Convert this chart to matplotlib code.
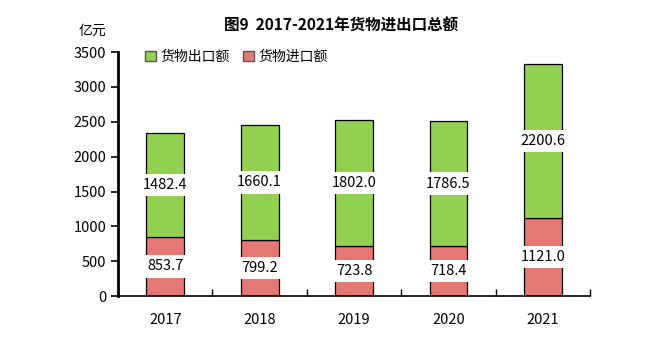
import matplotlib

matplotlib.use("Agg")
import matplotlib.pyplot as plt
import numpy as np
from matplotlib.patches import Patch

plt.rcParams["font.family"] = ["Noto Sans CJK SC", "DejaVu Sans"]

years = ["2017", "2018", "2019", "2020", "2021"]
exports = [1482.4, 1660.1, 1802.0, 1786.5, 2200.6]
imports = [853.7, 799.2, 723.8, 718.4, 1121.0]

EXPORT_COLOR = "#92d050"
IMPORT_COLOR = "#e57873"

figure = plt.figure(figsize=(6.49, 3.38), dpi=100)
axis = figure.add_axes([0.182, 0.124, 0.727, 0.722])

positions = np.arange(len(years))
bar_width = 0.4
axis.bar(positions, imports, bar_width, color=IMPORT_COLOR, edgecolor="black", linewidth=0.9)
axis.bar(positions, exports, bar_width, bottom=imports, color=EXPORT_COLOR, edgecolor="black", linewidth=0.9)

box = dict(facecolor="white", edgecolor="none", pad=3)
for x, imp, exp in zip(positions, imports, exports):
    axis.text(x, imp / 2, f"{imp:.1f}", ha="center", va="center", fontsize=10.5, bbox=box)
    axis.text(x, imp + exp / 2, f"{exp:.1f}", ha="center", va="center", fontsize=10.5, bbox=box)

axis.set_xlim(-0.5, len(years) - 0.5)
axis.set_ylim(0, 3500)
axis.set_yticks(range(0, 3501, 500))
axis.tick_params(axis="y", direction="out", length=5, width=1.2, labelsize=10.5)
axis.set_xticks(positions)
axis.set_xticklabels(years)
axis.set_xticks(np.arange(-0.5, len(years)), minor=True)
axis.tick_params(axis="x", which="major", length=0, pad=12, labelsize=10.5)
axis.tick_params(axis="x", which="minor", direction="in", length=5, width=1)

for side in ("top", "right"):
    axis.spines[side].set_visible(False)
axis.spines["left"].set_linewidth(2)
axis.spines["bottom"].set_linewidth(1.2)

handles = [
    Patch(facecolor=EXPORT_COLOR, edgecolor="#555555", label="货物出口额"),
    Patch(facecolor=IMPORT_COLOR, edgecolor="#555555", label="货物进口额"),
]
axis.legend(
    handles=handles,
    loc="upper left",
    bbox_to_anchor=(0.03, 1.06),
    ncol=2,
    frameon=False,
    fontsize=10,
    handlelength=0.8,
    handleheight=0.8,
    handletextpad=0.3,
    columnspacing=1.0,
)

figure.text(0.526, 0.925, "图9  2017-2021年货物进出口总额", ha="center", va="center", fontsize=11.2, fontweight="bold")
figure.text(0.143, 0.91, "亿元", ha="center", va="center", fontsize=10)

figure.savefig("out.png", dpi=100)
plt.close(figure)
